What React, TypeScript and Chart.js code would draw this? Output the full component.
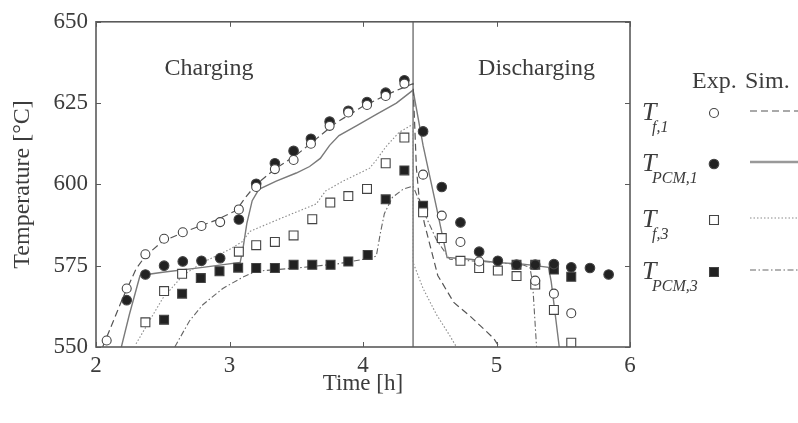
import React, { useEffect, useRef } from "react";
import { Chart, registerables } from "chart.js";

Chart.register(...registerables);

const FONT = '"Liberation Serif", "Times New Roman", serif';

// ---- axes ----
const X_MIN = 2, X_MAX = 6, X_STEP = 1;
const Y_MIN = 550, Y_MAX = 650, Y_STEP = 25;
const SWITCH_TIME = 4.375;

// ---- experimental data (charging) ----
const tf1ChargeT = [2.08, 2.23, 2.37, 2.51, 2.65, 2.79, 2.93, 3.07, 3.20, 3.34, 3.48, 3.61, 3.75, 3.89, 4.03, 4.17, 4.31];
const tf1ChargeV = [552, 568, 578.5, 583.3, 585.3, 587.2, 588.4, 592.3, 599.2, 604.7, 607.5, 612.5, 618, 622.1, 624.4, 627.2, 631];
const pcm1ChargeT = [2.23, 2.37, 2.51, 2.65, 2.79, 2.93, 3.07, 3.20, 3.34, 3.48, 3.61, 3.75, 3.89, 4.03, 4.17, 4.31];
const pcm1ChargeV = [564.4, 572.3, 575, 576.3, 576.5, 577.3, 589.2, 600.2, 606.5, 610.3, 614, 619.3, 622.6, 625.3, 628.2, 632];
const tf3ChargeT = [2.37, 2.51, 2.645, 3.07, 3.20, 3.34, 3.48, 3.62, 3.755, 3.89, 4.03, 4.17, 4.31];
const tf3ChargeV = [557.6, 567.2, 572.5, 579.3, 581.3, 582.3, 584.3, 589.3, 594.4, 596.4, 598.6, 606.5, 614.4];
const pcm3ChargeT = [2.51, 2.645, 2.785, 2.925, 3.065, 3.20, 3.34, 3.48, 3.62, 3.757, 3.89, 4.035, 4.17, 4.31];
const pcm3ChargeV = [558.4, 566.4, 571.2, 573.3, 574.4, 574.3, 574.3, 575.3, 575.3, 575.3, 576.3, 578.3, 595.4, 604.3];

// ---- experimental data (discharging) ----
const tf1DisT = [4.45, 4.59, 4.73, 4.87, 5.29, 5.43, 5.56];
const tf1DisV = [603, 590.4, 582.3, 576.3, 570.4, 566.4, 560.4];
const pcm1DisT = [4.45, 4.59, 4.73, 4.87, 5.01, 5.15, 5.29, 5.43, 5.56, 5.70, 5.84];
const pcm1DisV = [616.3, 599.2, 588.3, 579.3, 576.5, 575.3, 575.3, 575.5, 574.5, 574.3, 572.3];
const tf3DisT = [4.45, 4.59, 4.73, 4.87, 5.01, 5.15, 5.29, 5.43, 5.56];
const tf3DisV = [591.4, 583.5, 576.5, 574.3, 573.5, 571.8, 569.2, 561.4, 551.3];
const pcm3DisT = [4.45, 5.15, 5.29, 5.43, 5.56];
const pcm3DisV = [593.4, 575.3, 575.3, 573.8, 571.6];

// ---- simulation curves ----
const tf1SimT = [2.05, 2.10, 2.20, 2.30, 2.37, 2.50, 2.70, 2.90, 3.05, 3.12, 3.20, 3.35, 3.50, 3.65, 3.80, 4.00, 4.20, 4.375, 4.40, 4.42, 4.46, 4.56, 4.68, 4.81, 4.98, 5.02];
const tf1SimV = [550, 555, 565, 574, 578, 582.5, 586, 589, 592, 596, 600, 605, 609, 614, 619, 624, 628, 631, 605, 596, 588, 572, 563.7, 559.2, 552.6, 550];
const pcm1SimT = [2.19, 2.25, 2.33, 2.50, 2.80, 3.08, 3.10, 3.13, 3.17, 3.22, 3.35, 3.50, 3.60, 3.68, 3.75, 3.82, 3.95, 4.10, 4.25, 4.375, 4.45, 4.55, 4.63, 4.80, 5.00, 5.20, 5.39, 5.41, 5.47];
const pcm1SimV = [550, 560, 572, 573, 574.5, 576, 580, 588, 595, 598.5, 601, 603.5, 605.5, 608, 612, 615, 618, 621.5, 625, 629, 612, 593, 577.5, 577, 576, 575.5, 574.5, 570, 550];
const tf3SimT = [2.30, 2.40, 2.50, 2.65, 2.80, 3.00, 3.10, 3.15, 3.375, 3.65, 3.72, 3.85, 4.05, 4.10, 4.17, 4.27, 4.375, 4.375, 4.45, 4.55, 4.65, 4.70];
const tf3SimV = [551, 558, 565, 572, 576, 580, 582.5, 585.5, 589.4, 594, 598, 601, 605, 607.5, 611.5, 616, 618.5, 576, 568, 560, 553.5, 550];
const pcm3SimT = [2.59, 2.70, 2.80, 2.95, 3.10, 3.20, 3.50, 3.80, 4.05, 4.10, 4.13, 4.16, 4.22, 4.30, 4.375, 4.45, 4.55, 4.65, 4.80, 5.00, 5.20, 5.25, 5.27, 5.30];
const pcm3SimV = [550, 558, 563, 568, 571.5, 573.3, 574.3, 575.5, 577.3, 578, 585, 591, 596, 598.5, 599.5, 592, 583, 577, 576.5, 576, 575.2, 574.5, 570, 550];

// ---- text ----
const PHASE_LABELS = ["Charging", "Discharging"];
const PHASE_LABEL_X = [2.846, 5.30];
const PHASE_LABEL_Y = 633.7;
const X_TITLE = "Time [h]";
const Y_TITLE = "Temperature [°C]";
const LEGEND_HEAD = ["Exp.", "Sim."];
const LEGEND_SUBS = ["f,1", "PCM,1", "f,3", "PCM,3"];

const xy = (ts: number[], vs: number[]) => ts.map((t, i) => ({ x: t, y: vs[i] }));

const TEXT = "#3c3c3c";
const FRAME = "#5a5a5a";

const SIM_STYLES = [
  { color: "#555", dash: [7, 4], width: 1.2 },
  { color: "#7a7a7a", dash: [], width: 1.4 },
  { color: "#8a8a8a", dash: [1.5, 2], width: 1.1 },
  { color: "#666", dash: [6, 2.5, 1.5, 2.5], width: 1.1 },
];
const MARKERS = [
  { style: "circle", filled: false, r: 4.5 },
  { style: "circle", filled: true, r: 4.8 },
  { style: "rect", filled: false, r: 6.3 },
  { style: "rect", filled: true, r: 6.3 },
];

const decorPlugin = {
  id: "decor",
  beforeDatasetsDraw(chart: any) {
    const { ctx, chartArea: a, scales } = chart;
    const x = scales.x, y = scales.y;
    ctx.save();
    const sx = x.getPixelForValue(SWITCH_TIME);
    ctx.strokeStyle = "#666";
    ctx.lineWidth = 1.3;
    ctx.beginPath();
    ctx.moveTo(sx, a.top);
    ctx.lineTo(sx, a.bottom);
    ctx.stroke();
    ctx.fillStyle = TEXT;
    ctx.font = `24px ${FONT}`;
    ctx.textAlign = "center";
    ctx.textBaseline = "alphabetic";
    PHASE_LABELS.forEach((s, i) => {
      ctx.fillText(s, x.getPixelForValue(PHASE_LABEL_X[i]), y.getPixelForValue(PHASE_LABEL_Y));
    });
    ctx.restore();
  },
  afterDraw(chart: any) {
    const { ctx, chartArea: a, scales } = chart;
    const x = scales.x, y = scales.y;
    ctx.save();
    ctx.strokeStyle = FRAME;
    ctx.lineWidth = 1.6;
    ctx.strokeRect(a.left, a.top, a.right - a.left, a.bottom - a.top);
    ctx.lineWidth = 1;
    const TL = 5;
    ctx.beginPath();
    for (let v = Y_MIN; v <= Y_MAX; v += Y_STEP) {
      const py = Math.round(y.getPixelForValue(v)) + 0.5;
      ctx.moveTo(a.left, py); ctx.lineTo(a.left + TL, py);
      ctx.moveTo(a.right, py); ctx.lineTo(a.right - TL, py);
    }
    for (let v = X_MIN; v <= X_MAX; v += X_STEP) {
      const px = Math.round(x.getPixelForValue(v)) + 0.5;
      ctx.moveTo(px, a.top); ctx.lineTo(px, a.top + TL);
      ctx.moveTo(px, a.bottom); ctx.lineTo(px, a.bottom - TL);
    }
    ctx.stroke();

    // legend
    const L = a.right;
    ctx.fillStyle = TEXT;
    ctx.textAlign = "left";
    ctx.textBaseline = "alphabetic";
    ctx.font = `24px ${FONT}`;
    ctx.fillText(LEGEND_HEAD[0], L + 62, 88);
    ctx.fillText(LEGEND_HEAD[1], L + 115, 88);
    const rows = [113, 164, 220, 272];
    rows.forEach((ry, i) => {
      ctx.fillStyle = TEXT;
      ctx.font = `italic 26px ${FONT}`;
      ctx.fillText("T", L + 12, ry + 7);
      ctx.font = `italic 16px ${FONT}`;
      ctx.fillText(LEGEND_SUBS[i], L + 22, ry + 19);
      // marker
      const m = MARKERS[i];
      const mx = L + 84;
      ctx.lineWidth = 1.1;
      ctx.strokeStyle = "#444";
      ctx.fillStyle = m.filled ? "#222" : "#fff";
      ctx.beginPath();
      if (m.style === "circle") {
        ctx.arc(mx, ry, m.r, 0, Math.PI * 2);
      } else {
        const s = m.r * Math.SQRT1_2;
        ctx.rect(mx - s, ry - s, 2 * s, 2 * s);
      }
      ctx.fill();
      ctx.stroke();
      // line sample
      const st = SIM_STYLES[i];
      ctx.strokeStyle = i === 1 ? "#999" : st.color;
      ctx.lineWidth = st.width + (i === 1 ? 1.2 : 0);
      ctx.setLineDash(st.dash);
      ctx.beginPath();
      ctx.moveTo(L + 120, ry - 2);
      ctx.lineTo(L + 168, ry - 2);
      ctx.stroke();
      ctx.setLineDash([]);
    });
    ctx.restore();
  },
};

export default function App() {
  const ref = useRef<HTMLCanvasElement | null>(null);
  useEffect(() => {
    if (!ref.current) return;
    const expSets = [
      [tf1ChargeT.concat(tf1DisT), tf1ChargeV.concat(tf1DisV)],
      [pcm1ChargeT.concat(pcm1DisT), pcm1ChargeV.concat(pcm1DisV)],
      [tf3ChargeT.concat(tf3DisT), tf3ChargeV.concat(tf3DisV)],
      [pcm3ChargeT.concat(pcm3DisT), pcm3ChargeV.concat(pcm3DisV)],
    ];
    const simSets = [
      [tf1SimT, tf1SimV],
      [pcm1SimT, pcm1SimV],
      [tf3SimT, tf3SimV],
      [pcm3SimT, pcm3SimV],
    ];
    const markerOrder = [0, 2, 1, 3];
    const datasets: any[] = [];
    expSets.forEach(([t, v], i) => {
      const m = MARKERS[i];
      datasets.push({
        data: xy(t as number[], v as number[]),
        showLine: false,
        pointStyle: m.style,
        pointRadius: m.r,
        pointBorderWidth: 1.1,
        pointBorderColor: "#444",
        pointBackgroundColor: m.filled ? "#222" : "#fff",
        order: markerOrder[i],
      });
    });
    simSets.forEach(([t, v], i) => {
      const st = SIM_STYLES[i];
      datasets.push({
        data: xy(t as number[], v as number[]),
        showLine: true,
        pointRadius: 0,
        borderColor: st.color,
        borderWidth: st.width,
        borderDash: st.dash,
        tension: 0,
        order: 10 + i,
      });
    });
    const chart = new Chart(ref.current, {
      type: "scatter",
      data: { datasets },
      options: {
        animation: false,
        responsive: false,
        layout: { padding: { top: 16, right: 168, left: 0, bottom: 0 } },
        plugins: { legend: { display: false }, tooltip: { enabled: false } },
        scales: {
          x: {
            type: "linear",
            min: X_MIN,
            max: X_MAX,
            grid: { display: false, drawTicks: false },
            border: { display: false },
            ticks: { stepSize: X_STEP, color: TEXT, padding: 5, font: { family: FONT, size: 23 } },
            title: { display: true, text: X_TITLE, color: TEXT, font: { family: FONT, size: 23 }, padding: { top: 0, bottom: 25 } },
            afterFit: (s: any) => { s.height = 76; },
          },
          y: {
            type: "linear",
            min: Y_MIN,
            max: Y_MAX,
            grid: { display: false, drawTicks: false },
            border: { display: false },
            ticks: { stepSize: Y_STEP, color: TEXT, padding: 8, font: { family: FONT, size: 23 } },
            title: { display: true, text: Y_TITLE, color: TEXT, font: { family: FONT, size: 24 }, padding: { top: 8, bottom: 0 } },
            afterFit: (s: any) => { s.width = 96; },
          },
        },
      },
      plugins: [decorPlugin],
    });
    return () => chart.destroy();
  }, []);
  return (
    <div style={{ position: "absolute", left: 0, top: 0, width: 798, height: 423, background: "#fff" }}>
      <canvas ref={ref} width={798} height={423} style={{ display: "block" }} />
    </div>
  );
}
